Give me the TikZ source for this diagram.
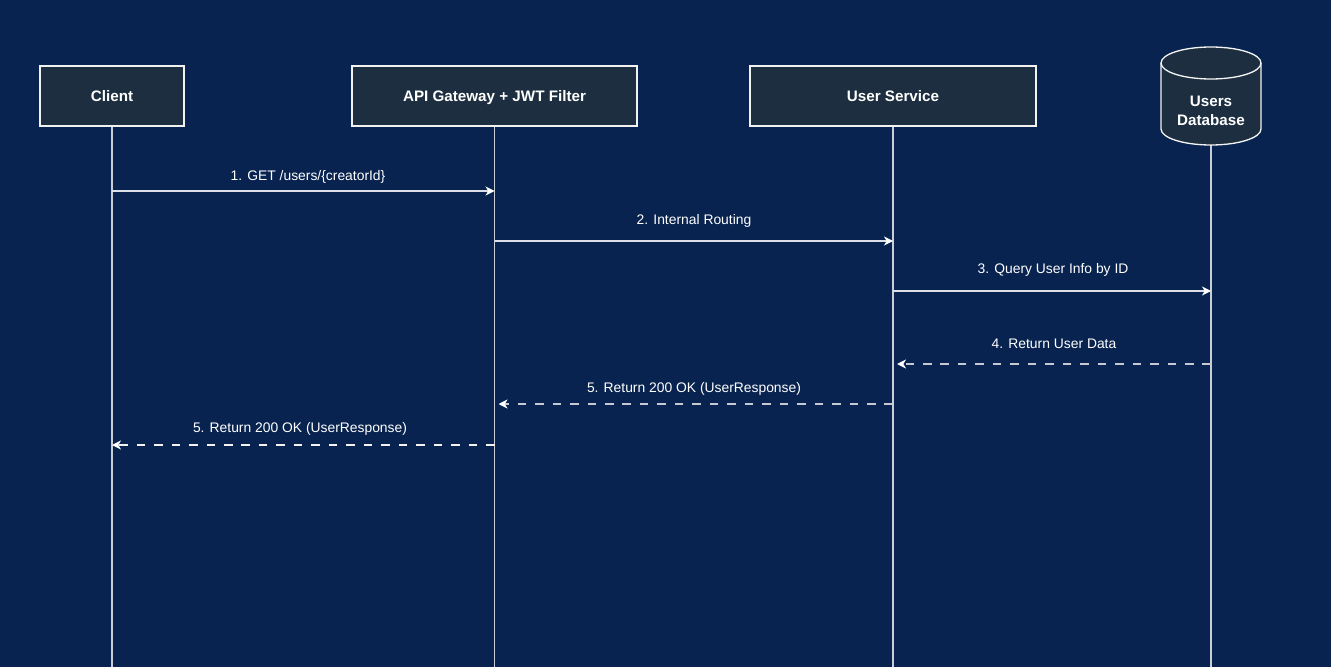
\documentclass[tikz,border=0pt]{standalone}
\usepackage{fontspec}
\setmainfont{Liberation Sans}
\usetikzlibrary{arrows.meta}
\definecolor{bg}{HTML}{08234F}
\definecolor{boxfill}{HTML}{1C2E3F}
\definecolor{edge}{HTML}{F2F2F2}
\definecolor{life}{HTML}{C9CED6}
\definecolor{msgc}{HTML}{DDE1E7}
\definecolor{dashc}{HTML}{C4C9D2}
\begin{document}
\begin{tikzpicture}[x=0.75pt,y=-0.75pt,
  actor/.style={draw=edge, line width=1.5pt, fill=boxfill, text=white,
    font=\fontsize{11.4}{14}\selectfont\bfseries, inner sep=0, minimum height=45pt,
    text depth=0pt},
  lifeline/.style={draw=life, line width=1pt},
  tipstyle/.style={-{Stealth[length=6.75pt,width=6.75pt,inset=2pt,color=white]}},
  msg/.style={draw=msgc, line width=1pt, tipstyle},
  ret/.style={draw=dashc, line width=1.1pt, tipstyle, dash pattern=on 6.4pt off 6.7pt, shorten >=3pt},
  ret2/.style={draw=edge, line width=0.8pt, tipstyle, dash pattern=on 6.4pt off 6.7pt},
  lbl/.style={text=white, font=\fontsize{10.4}{13}\selectfont, inner sep=0}
]
\useasboundingbox (0,0) rectangle (1331,667);
\fill[bg] (0,0) rectangle (1331,667);

% bottom ends of lifelines and database bottom
\coordinate (cEnd) at (112,667);
\coordinate (gEnd) at (494.5,667);
\coordinate (uEnd) at (893,667);
\coordinate (dEnd) at (1211,667);
\coordinate (dbBot) at (1211,145);
\coordinate (cTop) at (112,126);
\coordinate (gTop) at (494.5,126);
\coordinate (uTop) at (893,126);

% lifelines
\draw[lifeline] (cTop) -- (cEnd);
\draw[lifeline] (gTop) -- (gEnd);
\draw[lifeline] (uTop) -- (uEnd);
\draw[lifeline] (dbBot) -- (dEnd);

% participants
\node[actor, minimum width=108pt] (client) at (112,96) {Client};
\node[actor, minimum width=213.75pt] (gw) at (494.5,96) {API Gateway + JWT Filter};
\node[actor, minimum width=214.5pt] (us) at (893,96) {User Service};

% database cylinder
\draw[draw=edge, line width=1pt, fill=boxfill] (1161,63) -- (1161,129)
  arc[start angle=180, end angle=360, x radius=37.5pt, y radius=12pt]
  -- (1261,63)
  arc[start angle=0, end angle=180, x radius=37.5pt, y radius=12pt] -- cycle;
\draw[draw=edge, line width=1pt] (1161,63)
  arc[start angle=180, end angle=360, x radius=37.5pt, y radius=12pt];
\node[text=white, font=\fontsize{11.4}{14.2}\selectfont\bfseries, align=center, inner sep=0] (db) at (1211,111) {Users\\Database};

% message levels
\coordinate (m1) at (0,191);
\coordinate (m2) at (0,241);
\coordinate (m3) at (0,291);
\coordinate (m4) at (0,364);
\coordinate (m5) at (0,404);
\coordinate (m6) at (0,445);

\draw[msg] (client |- m1) -- (gw |- m1);
\draw[msg] (gw |- m2) -- (us |- m2);
\draw[msg] (us |- m3) -- (db |- m3);
\draw[ret] (db |- m4) -- (us |- m4);
\draw[ret] (us |- m5) -- (gw |- m5);
\draw[ret2] (gw |- m6) -- (client |- m6);

% labels
\node[lbl] (l1) at (308,177) {1. GET /users/\{creatorId\}};
\node[lbl] (l2) at (694,221) {2. Internal Routing};
\node[lbl] (l3) at (1053,270) {3. Query User Info by ID};
\node[lbl] (l4) at (1054,344) {4. Return User Data};
\node[lbl] (l5) at (694,389) {5. Return 200 OK (UserResponse)};
\node[lbl] (l6) at (300,429) {5. Return 200 OK (UserResponse)};
\end{tikzpicture}
\end{document}
